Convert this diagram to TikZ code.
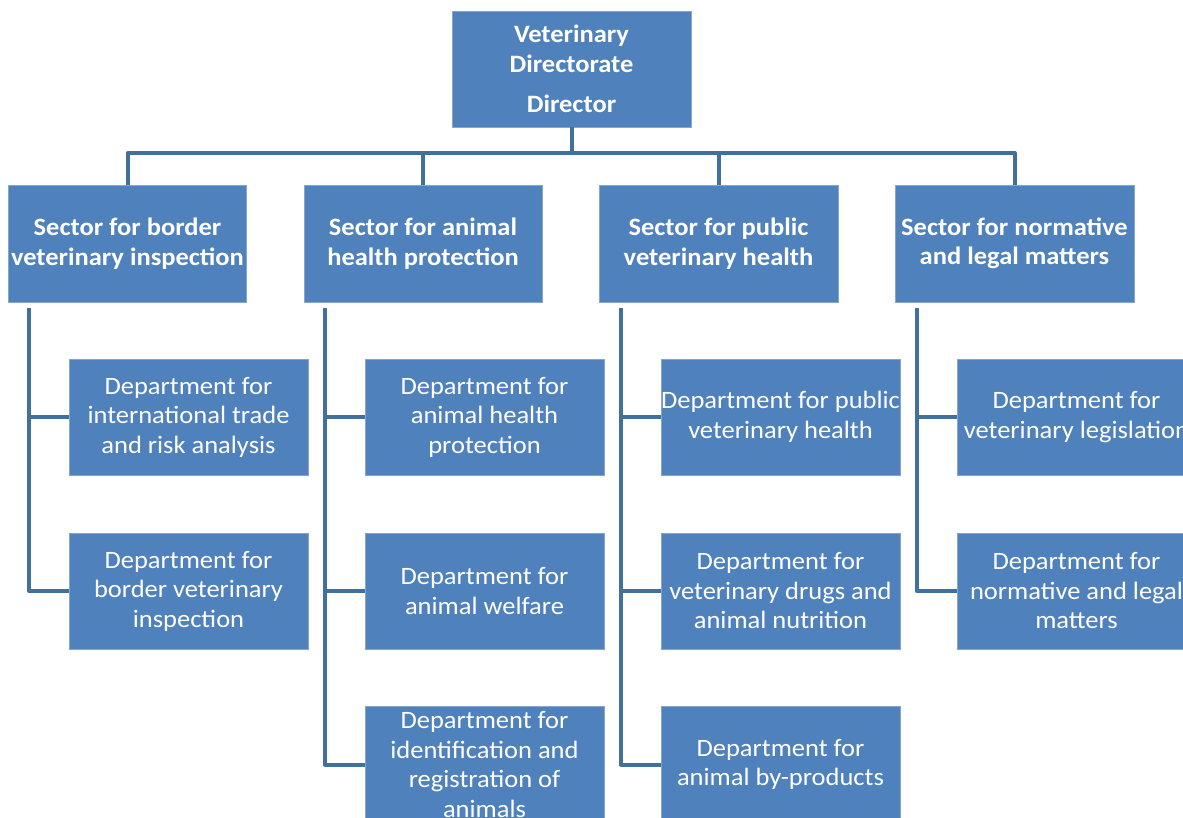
\documentclass[tikz,border=0pt]{standalone}
\usepackage{fontspec}
\setmainfont{Carlito}[FakeStretch=1.06]
\definecolor{boxblue}{HTML}{4F81BD}
\definecolor{lineblue}{HTML}{41709F}
\begin{document}
\begin{tikzpicture}[x=1pt,y=-1pt,
  box/.style={rectangle, fill=boxblue, draw=boxblue!70!white, line width=0.6pt, text=white,
    minimum width=239pt, minimum height=116pt, inner sep=0pt, align=center,
    font=\fontsize{25}{29.5}\selectfont},
  hbox/.style={box, font=\fontsize{25}{29.5}\selectfont\bfseries},
  conn/.style={draw=lineblue, line width=4pt, line join=round, line cap=butt}]
\useasboundingbox (0,0) rectangle (1183,817);
\clip (0,0) rectangle (1183,817);
% top
\node[hbox] (top) at (571.5,69) {Veterinary\\Directorate\\[11pt]Director};
% sectors
\node[hbox, minimum height=117pt, minimum width=238pt] (s1) at (127.5,243.5) {Sector for border\\veterinary inspection};
\node[hbox, minimum height=117pt, minimum width=238pt] (s2) at (423,243.5) {Sector for animal\\health protection};
\node[hbox, minimum height=117pt, minimum width=239pt] (s3) at (718.5,243.5) {Sector for public\\veterinary health};
\node[hbox, minimum height=117pt, minimum width=239pt] (s4) at (1014.5,243.5) {Sector for normative\\and legal matters};
% departments
\node[box] (d11) at (188.5,417) {Department for\\international trade\\and risk analysis};
\node[box] (d12) at (188.5,591) {Department for\\border veterinary\\inspection};
\node[box] (d21) at (484.5,417) {Department for\\animal health\\protection};
\node[box] (d22) at (484.5,591) {Department for\\animal welfare};
\node[box, minimum height=117pt] (d23) at (484.5,764.5) {Department for\\identification and\\registration of\\animals};
\node[box] (d31) at (780.5,417) {Department for public\\veterinary health};
\node[box] (d32) at (780.5,591) {Department for\\veterinary drugs and\\animal nutrition};
\node[box, minimum height=117pt] (d33) at (780.5,764.5) {Department for\\animal by-products};
\node[box] (d41) at (1076.5,417) {Department for\\veterinary legislation};
\node[box] (d42) at (1076.5,591) {Department for\\normative and legal\\matters};
% top connectors
\coordinate (bar) at (571.5,153);
\draw[conn] (top.south) -- (bar);
\draw[conn] (s1.north) |- (bar) -| (s4.north);
\draw[conn] (s2.north) -- (s2.north |- bar);
\draw[conn] (s3.north) -- (s3.north |- bar);
% spines
\coordinate (p1) at ([xshift=21pt,yshift=-6pt]s1.south west);
\coordinate (p2) at ([xshift=21pt,yshift=-6pt]s2.south west);
\coordinate (p3) at ([xshift=22pt,yshift=-6pt]s3.south west);
\coordinate (p4) at ([xshift=22pt,yshift=-6pt]s4.south west);
\draw[conn] (p1) |- (d12.west);
\draw[conn] (p1 |- d11.west) -- (d11.west);
\draw[conn] (p2) |- (d23.west);
\draw[conn] (p2 |- d21.west) -- (d21.west);
\draw[conn] (p2 |- d22.west) -- (d22.west);
\draw[conn] (p3) |- (d33.west);
\draw[conn] (p3 |- d31.west) -- (d31.west);
\draw[conn] (p3 |- d32.west) -- (d32.west);
\draw[conn] (p4) |- (d42.west);
\draw[conn] (p4 |- d41.west) -- (d41.west);
\end{tikzpicture}
\end{document}
